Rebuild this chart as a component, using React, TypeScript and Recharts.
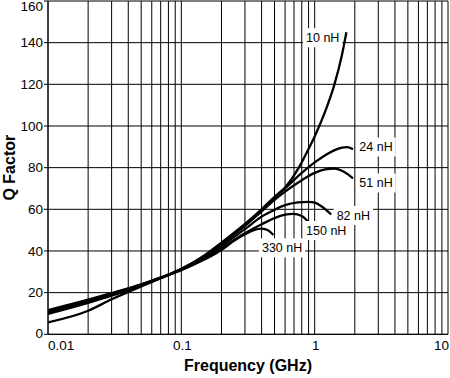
import React from 'react';
import { LineChart, Line, XAxis, YAxis, CartesianGrid, LabelList, Label } from 'recharts';

// ---- data ----
const xGridTicks = [
  0.01, 0.02, 0.03, 0.04, 0.05, 0.06, 0.07, 0.08, 0.09,
  0.1, 0.2, 0.3, 0.4, 0.5, 0.6, 0.7, 0.8, 0.9,
  1, 2, 3, 4, 5, 6, 7, 8, 9, 10,
];
const xDecades = [0.01, 0.1, 1, 10];
const xDecadeLabels = ['0.01', '0.1', '1', '10'];
const yTicks = [0, 20, 40, 60, 80, 100, 120, 140, 160];

const freq10 = [0.01, 0.02, 0.03, 0.05, 0.07, 0.1, 0.15, 0.2, 0.3, 0.4, 0.5, 0.6, 0.76, 0.9, 1.0, 1.2, 1.4, 1.6, 1.73];
const q10 = [5.7, 11.3, 16.8, 23.0, 26.9, 31.4, 38.0, 44.0, 53.0, 60.0, 66.0, 70.5, 80.0, 89.0, 95.0, 107.0, 119.5, 134.0, 145.0];

const freq24 = [0.01, 0.02, 0.03, 0.05, 0.07, 0.1, 0.15, 0.2, 0.3, 0.4, 0.5, 0.6, 0.8, 1.0, 1.2, 1.4, 1.6, 1.75, 1.94];
const q24 = [9.8, 15.1, 18.5, 23.4, 27.0, 31.3, 37.8, 43.8, 52.5, 59.8, 65.5, 70.0, 77.5, 82.5, 86.0, 88.3, 89.6, 89.9, 88.8];

const freq51 = [0.01, 0.02, 0.03, 0.05, 0.07, 0.1, 0.15, 0.2, 0.3, 0.4, 0.5, 0.6, 0.8, 1.0, 1.2, 1.4, 1.6, 1.8, 1.94];
const q51 = [10.3, 15.6, 18.9, 23.6, 27.1, 31.2, 37.5, 43.3, 52.0, 59.0, 64.5, 68.5, 74.0, 77.5, 79.2, 79.6, 78.5, 76.5, 74.8];

const freq82 = [0.01, 0.02, 0.03, 0.05, 0.07, 0.1, 0.15, 0.2, 0.3, 0.4, 0.5, 0.6, 0.75, 0.9, 1.0, 1.15, 1.33];
const q82 = [10.8, 16.0, 19.2, 23.8, 27.2, 31.1, 37.0, 42.5, 50.5, 56.5, 59.8, 62.0, 63.3, 63.6, 63.2, 61.0, 57.5];

const freq150 = [0.01, 0.02, 0.03, 0.05, 0.07, 0.1, 0.15, 0.2, 0.3, 0.4, 0.5, 0.6, 0.69, 0.8, 0.892];
const q150 = [11.2, 16.3, 19.5, 23.9, 27.2, 31.0, 36.5, 41.5, 48.5, 52.8, 55.8, 57.4, 57.8, 56.8, 54.0];

const freq330 = [0.01, 0.02, 0.03, 0.05, 0.07, 0.1, 0.15, 0.2, 0.25, 0.3, 0.35, 0.4, 0.45, 0.49];
const q330 = [11.6, 16.6, 19.8, 24.0, 27.2, 30.8, 36.0, 40.5, 45.0, 48.0, 50.0, 50.7, 49.8, 47.7];

const seriesNames = ['10 nH', '24 nH', '51 nH', '82 nH', '150 nH', '330 nH'];
const seriesFreqs = [freq10, freq24, freq51, freq82, freq150, freq330];
const seriesQs = [q10, q24, q51, q82, q150, q330];

// ---- styling ----
const FONT = '"Liberation Sans", Arial, Helvetica, sans-serif';
// label placement relative to the end of each curve: [text-left dx, text-center dy]
const labelOffsets: [number, number][] = [
  [-40.4, 5.5],
  [6.3, -2.3],
  [6.3, 4.5],
  [5.5, 1.0],
  [-2.0, 8.7],
  [-11.4, 12.9],
];
const LABEL_SIZE = 12.5;

function textWidth(s: string, size: number) {
  let w = 0;
  for (const ch of s) {
    if (ch >= '0' && ch <= '9') w += 0.556;
    else if (ch === ' ') w += 0.278;
    else if (ch === 'n') w += 0.556;
    else if (ch === 'H') w += 0.722;
    else w += 0.556;
  }
  return w * size;
}

function makeLabel(seriesIndex: number) {
  const lastIndex = seriesFreqs[seriesIndex].length - 1;
  const name = seriesNames[seriesIndex];
  const [dx, dy] = labelOffsets[seriesIndex];
  return (props: any) => {
    const { x, y, index } = props;
    if (index !== lastIndex || x == null || y == null) return null;
    const w = textWidth(name, LABEL_SIZE);
    const left = x + dx;
    const cy = y + dy;
    return (
      <g>
        <rect x={left - 3} y={cy - 9.5} width={w + 6} height={19} fill="#fff" />
        <text
          x={left}
          y={cy + LABEL_SIZE * 0.358}
          fontFamily={FONT}
          fontSize={LABEL_SIZE}
          fill="#000"
        >
          {name}
        </text>
      </g>
    );
  };
}

const XTick = (props: any) => {
  const { x, y, payload } = props;
  const i = xDecades.findIndex((d) => Math.abs(d - payload.value) < 1e-9);
  if (i < 0) return null;
  let anchor: 'start' | 'middle' | 'end' = 'middle';
  let tx = x + 1;
  if (i === 0) { anchor = 'start'; tx = x; }
  if (i === xDecades.length - 1) { anchor = 'end'; tx = x + 1; }
  return (
    <text x={tx} y={y + 15.7} textAnchor={anchor} fontFamily={FONT} fontSize={13.5} fill="#000">
      {xDecadeLabels[i]}
    </text>
  );
};

const YTick = (props: any) => {
  const { x, y, payload } = props;
  let shift = 0;
  if (payload.value === 160) shift = 4.7;
  if (payload.value === 0) shift = -1.6;
  return (
    <text x={x} y={y + shift + 13.5 * 0.358} textAnchor="end" fontFamily={FONT} fontSize={13.5} fill="#000">
      {payload.value}
    </text>
  );
};

export default function App() {
  return (
    <div style={{ position: 'absolute', left: 0, top: 0, width: 450, height: 378, background: '#fff' }}>
      <LineChart width={450} height={378} margin={{ top: 1, right: 2, bottom: 0, left: 0 }}>
        <CartesianGrid stroke="#000" strokeWidth={1} fill="none" />
        <XAxis
          dataKey="f"
          type="number"
          scale="log"
          domain={[0.01, 10]}
          allowDataOverflow
          ticks={xGridTicks}
          interval={0}
          tick={<XTick />}
          tickLine={false}
          tickSize={0}
          tickMargin={0}
          height={43.7}
          axisLine={{ stroke: '#000' }}
        >
          <Label
            content={(p: any) => {
              const vb = p.viewBox || { x: 48, y: 334.3, width: 400, height: 43.7 };
              return (
                <text
                  x={vb.x + vb.width / 2}
                  y={vb.y + 37}
                  textAnchor="middle"
                  fontFamily={FONT}
                  fontSize={16}
                  fontWeight="bold"
                  fill="#000"
                >
                  Frequency (GHz)
                </text>
              );
            }}
          />
        </XAxis>
        <YAxis
          type="number"
          domain={[0, 160]}
          ticks={yTicks}
          interval={0}
          width={48}
          tick={<YTick />}
          tickSize={4}
          tickMargin={1}
          tickLine={{ stroke: '#000' }}
          axisLine={{ stroke: '#000' }}
        >
          <Label
            content={(p: any) => {
              const vb = p.viewBox || { x: 0, y: 1, width: 48, height: 333.3 };
              const cy = vb.y + vb.height / 2;
              return (
                <text
                  x={15}
                  y={cy}
                  transform={`rotate(-90, 15, ${cy})`}
                  textAnchor="middle"
                  fontFamily={FONT}
                  fontSize={16}
                  fontWeight="bold"
                  fill="#000"
                >
                  Q Factor
                </text>
              );
            }}
          />
        </YAxis>
        {seriesNames.map((name, si) => (
          <Line
            key={name}
            name={name}
            data={seriesFreqs[si].map((f, i) => ({ f, q: seriesQs[si][i] }))}
            dataKey="q"
            type="monotone"
            stroke="#000"
            strokeWidth={2.3}
            dot={false}
            activeDot={false}
            isAnimationActive={false}
          >
            <LabelList dataKey="q" content={makeLabel(si)} />
          </Line>
        ))}
      </LineChart>
    </div>
  );
}
